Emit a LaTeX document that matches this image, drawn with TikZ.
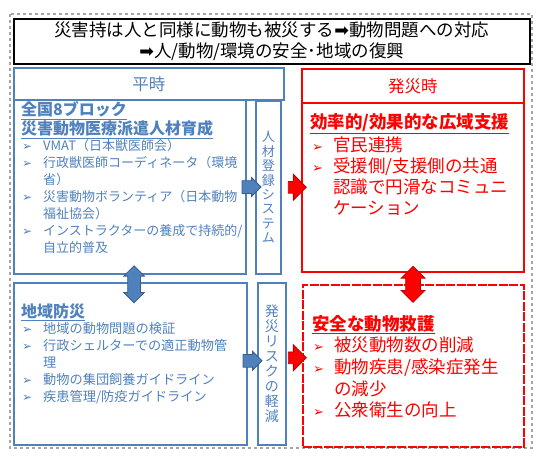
\documentclass[tikz,border=0pt]{standalone}
\usepackage{fontspec}
\setmainfont{Noto Sans CJK JP}
\newfontfamily\sym{DejaVu Sans}
\usepackage{tikz}
\usetikzlibrary{shapes.arrows, calc, positioning}
\definecolor{calmBlue}{HTML}{4F81BD}
\definecolor{deepBlue}{HTML}{385D8A}
\definecolor{alertRed}{HTML}{FF0000}
\definecolor{deepRed}{HTML}{C00000}
\definecolor{frameGray}{HTML}{A6A6A6}
\newcommand{\bulB}{\makebox[21pt][l]{\fontsize{12}{12}\sym ➢}}
\newcommand{\bulR}{\makebox[21pt][l]{\fontsize{13}{13}\sym ➢}}

\begin{document}
\begin{tikzpicture}[
    x=1pt, y=-1pt,
    panel/.style={draw, line width=1.6pt, inner sep=0pt, anchor=north west},
    bluebox/.style={panel, draw=calmBlue, text=calmBlue},
    redbox/.style={panel, draw=alertRed, text=alertRed},
    sidetext/.style={align=center},
    blist/.style={anchor=north west, inner sep=0pt, align=left, text=calmBlue},
    rlist/.style={anchor=north west, inner sep=0pt, align=left, text=alertRed},
    bluePush/.style={single arrow, draw=deepBlue, fill=calmBlue, line width=0.8pt,
                     inner xsep=0pt, inner ysep=6pt, minimum height=19pt,
                     single arrow head extend=3pt},
    redPush/.style={single arrow, draw=deepRed, fill=alertRed, line width=0.8pt,
                    inner xsep=0pt, inner ysep=5.5pt, minimum height=18pt,
                    single arrow head extend=7pt},
    blueSwap/.style={double arrow, rotate=90, draw=deepBlue, fill=calmBlue,
                     line width=0.8pt, inner xsep=0pt, inner ysep=6pt,
                     minimum height=37pt, double arrow head extend=4pt},
    redSwap/.style={double arrow, rotate=90, draw=deepRed, fill=alertRed,
                    line width=0.8pt, inner xsep=0pt, inner ysep=7pt,
                    minimum height=36pt, double arrow head extend=4.5pt},
]
\useasboundingbox (0,0) rectangle (543,460);
\draw[frameGray, dashed, line width=1.5pt] (10,14) rectangle (532,448);

% title
\node[panel, draw=black, minimum width=516pt, minimum height=45pt, align=center,
      font=\fontsize{17.5}{21}\selectfont] (title) at (13,18)
      {災害持は人と同様に動物も被災する{\sym ➡}動物問題への対応\\{\sym ➡}人/動物/環境の安全･地域の復興};

% peacetime side
\node[bluebox, minimum width=270pt, minimum height=32pt,
      font=\fontsize{16.5}{20}\selectfont] (calmHead) at (13,67) {平時};
\node[bluebox, minimum width=232pt, minimum height=174pt] (calmTop) at (13,99) {};
\node[bluebox, sidetext, minimum width=25pt, minimum height=173pt,
      font=\fontsize{13}{14.4}\selectfont] (roster) at (255,100)
      {人\\材\\登\\録\\シ\\ス\\テ\\ム};
\node[bluebox, minimum width=233pt, minimum height=162pt] (calmLow) at (13,282) {};
\node[bluebox, sidetext, minimum width=28pt, minimum height=162pt,
      font=\fontsize{14}{15}\selectfont] (riskCut) at (257,282)
      {発\\災\\リ\\ス\\ク\\の\\軽\\減};

\node[blist, font=\fontsize{16}{19}\selectfont\bfseries] (trainHead) at (21,101.5)
      {\underline{全国8ブロック}\\\underline{災害動物医療派遣人材育成}};
\node[blist, font=\fontsize{13}{17}\selectfont] (trainList) at (22,139)
      {\bulB VMAT（日本獣医師会）\\
       \bulB 行政獣医師コーディネータ（環境\\
       \hspace*{21pt}省）\\
       \bulB 災害動物ボランティア（日本動物\\
       \hspace*{21pt}福祉協会）\\
       \bulB インストラクターの養成で持続的/\\
       \hspace*{21pt}自立的普及};

\node[blist, font=\fontsize{16}{19}\selectfont\bfseries] (localHead) at (21,303.5)
      {\underline{地域防災}};
\node[blist, font=\fontsize{13.2}{17}\selectfont] (localList) at (22,322)
      {\bulB 地域の動物問題の検証\\
       \bulB 行政シェルターでの適正動物管\\
       \hspace*{21pt}理\\
       \bulB 動物の集団飼養ガイドライン\\
       \bulB 疾患管理/防疫ガイドライン};

% disaster side
\node[redbox, minimum width=222pt, minimum height=34pt,
      font=\fontsize{16.5}{20}\selectfont] (alertHead) at (301,68) {発災時};
\node[redbox, minimum width=222pt, minimum height=169pt] (alertTop) at (301,102) {};
\node[redbox, dash pattern=on 9pt off 1.5pt, minimum width=221pt, minimum height=162pt]
      (alertLow) at (302,284) {};

\node[rlist, font=\fontsize{17.5}{21}\selectfont\bfseries] (aidHead) at (310,113.8)
      {\underline{効率的/効果的な広域支援}};
\node[rlist, font=\fontsize{17.5}{21}\selectfont] (aidList) at (312,136.8)
      {\bulR 官民連携\\
       \bulR 受援側/支援側の共通\\
       \hspace*{21pt}認識で円滑なコミュニ\\
       \hspace*{21pt}ケーション};

\node[rlist, font=\fontsize{17.5}{21}\selectfont\bfseries] (rescueHead) at (312,314.8)
      {\underline{安全な動物救護}};
\node[rlist, font=\fontsize{17.5}{21.7}\selectfont] (rescueList) at (313,336.8)
      {\bulR 被災動物数の削減\\
       \bulR 動物疾患/感染症発生\\
       \hspace*{21pt}の減少\\
       \bulR 公衆衛生の向上};

% block arrows
\node[bluePush, xshift=-2.5pt] (pushTop) at ($(calmTop.east)!0.5!(roster.west)$) {};
\node[redPush, xshift=3pt] (pushAlert) at ($(roster.east)!0.5!(alertTop.west)$) {};
\node[bluePush, xshift=-3pt, yshift=3pt] (pushLow) at ($(calmLow.east)!0.5!(riskCut.west)$) {};
\node[redPush, yshift=7pt] (pushSafe) at ($(riskCut.east)!0.5!(alertLow.west)$) {};
\node[blueSwap, xshift=-6pt, yshift=-4pt] (swapCalm) at ($(calmTop.south)!0.5!(calmLow.north)$) {};
\node[redSwap, xshift=-6pt] (swapAlert) at ($(alertTop.south)!0.5!(alertLow.north)$) {};
\end{tikzpicture}
\end{document}
